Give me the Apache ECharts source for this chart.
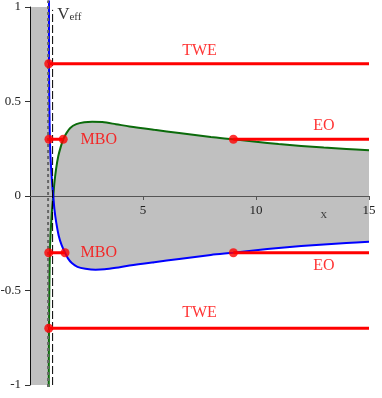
<!DOCTYPE html>
<html>
<head>
<meta charset="utf-8">
<script src="https://cdn.jsdelivr.net/npm/echarts@6/dist/echarts.min.js"></script>
<style>
html, body { margin: 0; padding: 0; background: #fff; }
#chart { width: 382px; height: 398px; }
</style>
</head>
<body>
<div id="chart"></div>
<script>
'use strict';

// axis ranges
var xMin = 0, xMax = 15, xStep = 5;
var yMin = -1, yMax = 1, yStep = 0.5;

// green curve, from the bottom of the picture up and out to x = 15
var greenX = [0.83, 0.84, 0.86, 0.88, 0.91, 0.95, 0.99, 1.03, 1.08, 1.15, 1.25, 1.36, 1.47, 1.6, 1.78, 2.05,
    2.4, 2.75, 3.2, 3.8, 4.4, 5.5, 6.6, 8, 9, 10, 11, 12, 13, 14, 15];
var greenY = [-1.01, -0.7, -0.45, -0.3, -0.2, -0.12, -0.05, 0, 0.07, 0.14, 0.21, 0.26, 0.3, 0.33, 0.36, 0.38,
    0.39, 0.393, 0.391, 0.38, 0.368, 0.35, 0.333, 0.312, 0.3, 0.287, 0.275, 0.265, 0.256, 0.249, 0.242];

// blue curve, from the top down and out to x = 15
var blueX = [0.84, 0.84, 0.86, 0.88, 0.91, 0.95, 0.99, 1.03, 1.08, 1.16, 1.27, 1.4, 1.55, 1.68, 1.85, 2.1,
    2.45, 2.9, 3.3, 3.8, 4.4, 5.5, 6.6, 8, 9, 10, 11, 12, 13, 14, 15];
var blueY = [1.035, 0.7, 0.45, 0.3, 0.2, 0.12, 0.05, 0, -0.07, -0.14, -0.21, -0.26, -0.3, -0.33, -0.355, -0.375,
    -0.385, -0.39, -0.388, -0.38, -0.368, -0.35, -0.333, -0.312, -0.3, -0.287, -0.275, -0.265, -0.256, -0.249, -0.242];

// red segments
var segX0 = [0.83, 0.83, 0.84, 0.83, 9, 9];
var segX1 = [15, 15, 1.47, 1.55, 15, 15];
var segY = [0.7, -0.7, 0.3, -0.3, 0.3, -0.3];

// red dots
var dotX = [0.83, 0.83, 0.84, 1.47, 0.83, 1.55, 9, 9];
var dotY = [0.7, -0.7, 0.3, 0.3, -0.3, -0.3, 0.3, -0.3];

// red captions
var labelText = ['TWE', 'TWE', 'MBO', 'MBO', 'EO', 'EO'];
var labelX = [7.5, 7.5, 3.04, 3.04, 13, 13];
var labelY = [0.77, -0.62, 0.3, -0.3, 0.37, -0.37];

var vEffX = 1;      // dashed asymptote
var asymX = 0.8;    // dotted line
var vEffLabel = [1.18, 0.96];
var xNamePos = [13.0, -0.1];

var SERIF = '"Liberation Serif", "Times New Roman", serif';
var GRID = { left: 30, right: 13, top: 7, bottom: 13 };

function zip(xs, ys) {
    var out = [];
    for (var i = 0; i < xs.length; i++) out.push([xs[i], ys[i]]);
    return out;
}

var green = zip(greenX, greenY);
var blue = zip(blueX, blueY);

// grey region: left band up to the curves plus the lens between them
var greyPts = [[xMin, yMax]]
    .concat(blue.map(function(p) { return [p[0], Math.min(p[1], yMax)]; }))
    .concat(green.slice().reverse().map(function(p) { return [p[0], Math.max(p[1], yMin)]; }))
    .concat([[xMin, yMin]]);

var segData = [];
for (var i = 0; i < segY.length; i++) {
    segData.push([segX0[i], segY[i]], [segX1[i], segY[i]], [null, null]);
}

var labelData = labelText.map(function(t, i) {
    return { name: t, value: [labelX[i], labelY[i]] };
});

// x axis sits on y = 0, half way up the plot
var plotH = 398 - GRID.top - GRID.bottom;
var xAxisOffset = -plotH * (0 - yMin) / (yMax - yMin);

var myChart = echarts.init(document.getElementById('chart'));
myChart.setOption({
    animation: false,
    backgroundColor: '#fff',
    grid: {
        left: GRID.left, right: GRID.right, top: GRID.top, bottom: GRID.bottom,
        containLabel: false,
        outerBoundsMode: 'none'
    },
    xAxis: {
        type: 'value',
        min: xMin, max: xMax, interval: xStep,
        position: 'bottom',
        offset: xAxisOffset,
        z: 2,
        splitLine: { show: false },
        axisLine: { onZero: false, lineStyle: { color: '#555', width: 1 } },
        axisTick: { length: 4, lineStyle: { color: '#555' } },
        axisLabel: {
            showMinLabel: false, margin: 8,
            color: '#222', fontFamily: SERIF, fontSize: 13
        }
    },
    yAxis: {
        type: 'value',
        min: yMin, max: yMax, interval: yStep,
        z: 2,
        splitLine: { show: false },
        axisLine: { onZero: false, lineStyle: { color: '#111', width: 1 } },
        axisTick: { length: 5, lineStyle: { color: '#333' } },
        axisLabel: { margin: 9, color: '#222', fontFamily: SERIF, fontSize: 13 }
    },
    series: [{
        type: 'custom',
        z: 1,
        silent: true,
        data: [[0, 0]],
        renderItem: function(params, api) {
            return {
                type: 'polygon',
                shape: { points: greyPts.map(function(p) { return api.coord(p); }) },
                style: { fill: '#c0c0c0' }
            };
        }
    }, {
        type: 'line',
        z: 3,
        clip: false,
        data: green,
        smooth: 0.3,
        showSymbol: false,
        lineStyle: { color: '#0b6b0b', width: 2 }
    }, {
        type: 'line',
        z: 3,
        clip: false,
        data: blue,
        smooth: 0.3,
        showSymbol: false,
        lineStyle: { color: '#0000ff', width: 2 }
    }, {
        type: 'line',
        z: 4,
        clip: false,
        data: [[asymX, -1.01], [asymX, 1.035]],
        showSymbol: false,
        lineStyle: { color: '#666', width: 2, type: [3, 3] }
    }, {
        type: 'line',
        z: 4,
        data: [[vEffX, -1], [vEffX, 0.985]],
        showSymbol: false,
        lineStyle: { color: '#000', width: 1, type: [8, 3] }
    }, {
        type: 'line',
        z: 5,
        data: segData,
        showSymbol: false,
        connectNulls: false,
        lineStyle: { color: '#ff0000', width: 3 }
    }, {
        type: 'scatter',
        z: 6,
        data: zip(dotX, dotY),
        symbolSize: 9,
        itemStyle: { color: '#ff0000' }
    }, {
        type: 'scatter',
        z: 6,
        data: labelData,
        symbolSize: 1,
        itemStyle: { color: 'rgba(0,0,0,0)' },
        label: {
            show: true, position: 'inside', formatter: '{b}',
            color: '#ff0000', fontFamily: SERIF, fontSize: 16
        }
    }, {
        type: 'scatter',
        z: 6,
        data: [{ name: 'x', value: xNamePos }],
        symbolSize: 1,
        itemStyle: { color: 'rgba(0,0,0,0)' },
        label: {
            show: true, position: 'inside', formatter: '{b}',
            color: '#222', fontFamily: SERIF, fontSize: 13
        }
    }, {
        type: 'scatter',
        z: 6,
        data: [{ name: 'Veff', value: vEffLabel }],
        symbolSize: 1,
        itemStyle: { color: 'rgba(0,0,0,0)' },
        label: {
            show: true, position: 'right', distance: 0,
            formatter: '{v|V}{s|eff}',
            rich: {
                v: { fontFamily: SERIF, fontSize: 17, color: '#000', verticalAlign: 'bottom' },
                s: { fontFamily: SERIF, fontSize: 11, color: '#000', verticalAlign: 'bottom' }
            }
        }
    }]
});
</script>
</body>
</html>
